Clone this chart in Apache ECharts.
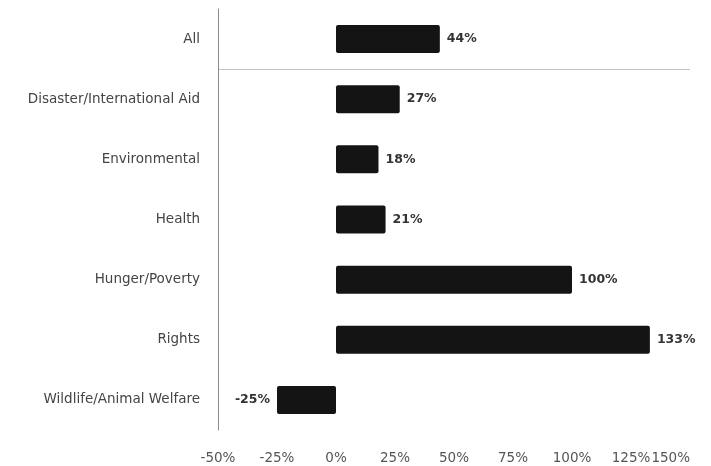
<!DOCTYPE html>
<html>
<head>
<meta charset="utf-8">
<script src="https://cdn.jsdelivr.net/npm/echarts@6/dist/echarts.min.js"></script>
<style>
  html, body { margin: 0; padding: 0; background: #fff; }
  #chart { width: 711px; height: 466px; }
</style>
</head>
<body>
<div id="chart"></div>
<script>
// Change in giving by cause, in percent
const categories = [
  'All',
  'Disaster/International Aid',
  'Environmental',
  'Health',
  'Hunger/Poverty',
  'Rights',
  'Wildlife/Animal Welfare'
];
const changePct = [44, 27, 18, 21, 100, 133, -25];
const xTicks = { min: -50, max: 150, step: 25 };

const FONT = '"DejaVu Sans", sans-serif';

const chart = echarts.init(document.getElementById('chart'), null, { renderer: 'canvas' });

chart.setOption({
  animation: false,
  backgroundColor: '#ffffff',
  grid: { left: 218, right: 21, top: 9, bottom: 36, containLabel: false },
  xAxis: {
    type: 'value',
    min: xTicks.min,
    max: xTicks.max,
    interval: xTicks.step,
    axisLine: { show: false },
    axisTick: { show: false },
    splitLine: { show: false },
    axisLabel: {
      formatter: v => v + '%',
      color: '#555',
      fontFamily: FONT,
      fontSize: 13.5,
      margin: 21,
      alignMaxLabel: 'right'
    }
  },
  yAxis: {
    type: 'category',
    data: categories,
    inverse: true,
    axisLine: { show: true, onZero: false, lineStyle: { color: '#8a8a8a', width: 1 } },
    axisTick: { show: false },
    splitLine: { show: false },
    axisLabel: {
      color: '#444',
      fontFamily: FONT,
      fontSize: 13.5,
      margin: 18
    }
  },
  series: [{
    type: 'bar',
    barWidth: 28,
    data: changePct.map(v => ({
      value: v,
      label: { position: v < 0 ? 'left' : 'right' }
    })),
    itemStyle: { color: '#141414', borderRadius: 2 },
    label: {
      show: true,
      distance: 7,
      formatter: p => p.value + '%',
      color: '#333',
      fontFamily: FONT,
      fontWeight: 'bold',
      fontSize: 12.5
    }
  }]
});

// Rule separating the overall row from the individual causes
function drawSeparator() {
  const yA = chart.convertToPixel({ yAxisIndex: 0 }, categories[0]);
  const yB = chart.convertToPixel({ yAxisIndex: 0 }, categories[1]);
  const x0 = chart.convertToPixel({ xAxisIndex: 0 }, xTicks.min);
  const x1 = chart.convertToPixel({ xAxisIndex: 0 }, xTicks.max);
  const y = Math.round((yA + yB) / 2) + 0.5;
  chart.setOption({
    graphic: [{
      type: 'line',
      shape: { x1: x0, y1: y, x2: x1, y2: y },
      style: { stroke: '#c4c4c4', lineWidth: 1 },
      silent: true
    }]
  });
}
drawSeparator();
</script>
</body>
</html>
